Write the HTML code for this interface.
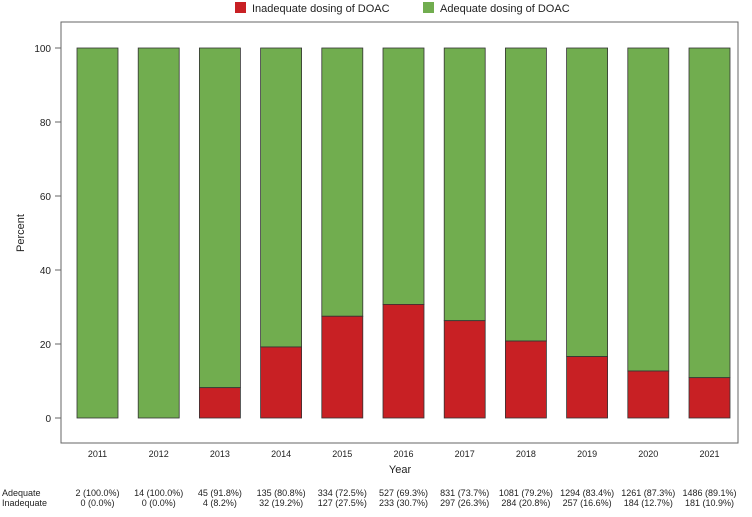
<!DOCTYPE html>
<html><head><meta charset="utf-8"><style>
body{margin:0;background:#fff;font-family:"Liberation Sans",sans-serif}
svg text{font-family:"Liberation Sans",sans-serif;fill:#222}
</style></head><body>
<svg width="752" height="512" id="chart">
<g>
<rect x="235" y="2" width="11" height="11" fill="#c82024"/>
<text x="252" y="12" font-size="11">Inadequate dosing of DOAC</text>
<rect x="423" y="2" width="11" height="11" fill="#71ad4f"/>
<text x="440" y="12" font-size="11">Adequate dosing of DOAC</text>
</g>
<rect x="61" y="22" width="677" height="421" fill="none" stroke="#666" stroke-width="1"/>
<g id="yaxis"></g>
<g id="bars"></g>
<g id="xaxis"></g>
<text x="0" y="0" font-size="11" transform="translate(24,233) rotate(-90)" text-anchor="middle">Percent</text>
<text x="400" y="473" font-size="11" text-anchor="middle">Year</text>
<text x="2" y="496" font-size="9">Adequate</text>
<text x="2" y="506" font-size="9">Inadequate</text>
<g id="table"></g>
</svg>
<script>
const years=["2011","2012","2013","2014","2015","2016","2017","2018","2019","2020","2021"];
const inadequatePct=[0,0,8.2,19.2,27.5,30.7,26.3,20.8,16.6,12.7,10.9];
const adequateN=[2,14,45,135,334,527,831,1081,1294,1261,1486];
const adequatePct=[100,100,91.8,80.8,72.5,69.3,73.7,79.2,83.4,87.3,89.1];
const inadequateN=[0,0,4,32,127,233,297,284,257,184,181];
const yTicks=[0,20,40,60,80,100];
const NS="http://www.w3.org/2000/svg";
const y=v=>418-v*3.7;
const xc=i=>97.5+i*61.2;
const bw=41;
function mk(t,a,parent){const e=document.createElementNS(NS,t);for(const k in a)e.setAttribute(k,a[k]);document.getElementById(parent).appendChild(e);return e;}
yTicks.forEach(v=>{
 const l=mk("line",{x1:55,x2:61,y1:y(v),y2:y(v),stroke:"#666"},"yaxis");
 
 
 const t=mk("text",{x:51,y:y(v)+4,"font-size":10,"text-anchor":"end"},"yaxis");t.textContent=v;
 
 
});
years.forEach((yr,i)=>{
 const x=xc(i)-bw/2, p=inadequatePct[i];
 const g=mk("rect",{x:x,y:y(100),width:bw,height:y(p)-y(100),fill:"#71ad4f",stroke:"#333","stroke-width":0.8},"bars");
 
 
 if(p>0){const r=mk("rect",{x:x,y:y(p),width:bw,height:y(0)-y(p),fill:"#c82024",stroke:"#333","stroke-width":0.8},"bars");
 
 }
 const t=mk("text",{x:xc(i),y:457,"font-size":9,"text-anchor":"middle"},"xaxis");t.textContent=yr;
 
 
 const a=mk("text",{x:xc(i),y:496,"font-size":9,"text-anchor":"middle"},"table");a.textContent=adequateN[i]+" ("+adequatePct[i].toFixed(1)+"%)";
 
 
 const b=mk("text",{x:xc(i),y:506,"font-size":9,"text-anchor":"middle"},"table");b.textContent=inadequateN[i]+" ("+inadequatePct[i].toFixed(1)+"%)";
 
 
});
</script>
</body></html>
